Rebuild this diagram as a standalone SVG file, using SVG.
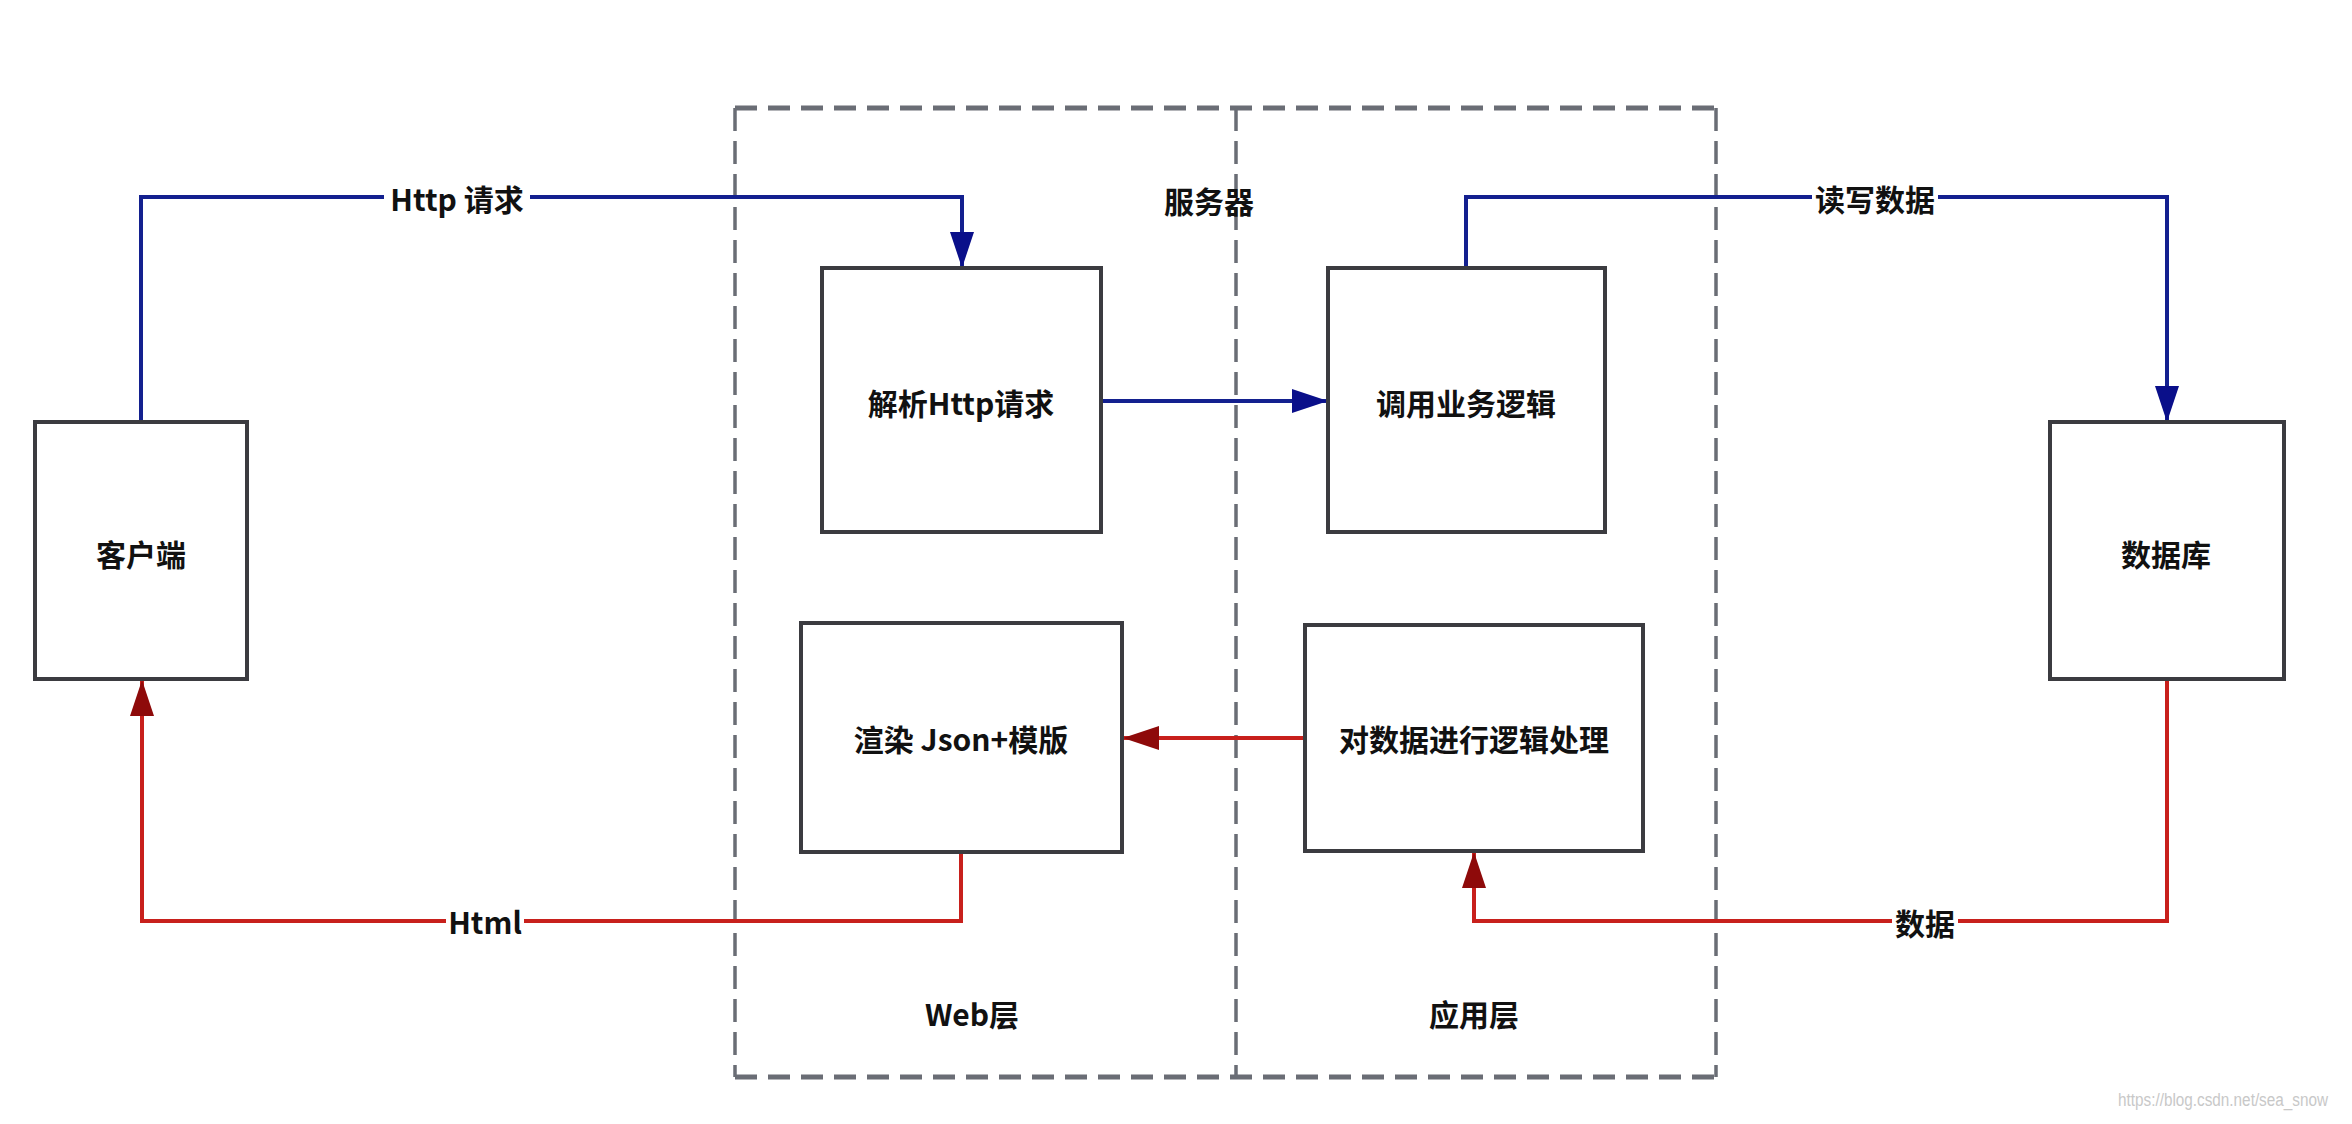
<svg xmlns="http://www.w3.org/2000/svg" width="2352" height="1124" viewBox="0 0 2352 1124">
<style>
.box{fill:#fff;stroke:#3b3b40;stroke-width:4}
.lbl{font-family:"Noto Sans CJK SC","Noto Sans",sans-serif;font-size:30px;font-weight:bold;fill:#111;text-anchor:middle;dominant-baseline:central}
.blue{fill:none;stroke:#13208f;stroke-width:4}
.red{fill:none;stroke:#c8201c;stroke-width:4}
.dashH{stroke:#6a6d75;stroke-width:5;stroke-dasharray:22 11;fill:none}
.dashV{stroke:#6a6d75;stroke-width:3.5;stroke-dasharray:23 10;fill:none}
.bg{fill:#fff}
</style>
<defs>
<marker id="ab" viewBox="0 0 36 24" refX="36" refY="12" markerWidth="36" markerHeight="24" markerUnits="userSpaceOnUse" orient="auto">
<path d="M0,0 L36,12 L0,24 z" fill="#0a0f8a"/>
</marker>
<marker id="ar" viewBox="0 0 36 24" refX="36" refY="12" markerWidth="36" markerHeight="24" markerUnits="userSpaceOnUse" orient="auto">
<path d="M0,0 L36,12 L0,24 z" fill="#8e0a0a"/>
</marker>
</defs>
<rect width="2352" height="1124" fill="#fff"/>

<g id="server">
<line class="dashH" x1="735" y1="108" x2="1716" y2="108"/>
<line class="dashH" x1="735" y1="1077" x2="1716" y2="1077"/>
<line class="dashV" x1="735" y1="108" x2="735" y2="1077"/>
<line class="dashV" x1="1236" y1="108" x2="1236" y2="1077"/>
<line class="dashV" x1="1716" y1="108" x2="1716" y2="1077"/>
<text class="lbl" x="1209" y="200">服务器</text>
<text class="lbl" x="972" y="1013">Web层</text>
<text class="lbl" x="1474" y="1013">应用层</text>
</g>

<g id="connectors">
<path class="blue" d="M141,422 V197 H962 V268" marker-end="url(#ab)"/>
<path class="blue" d="M1101,401 H1328" marker-end="url(#ab)"/>
<path class="blue" d="M1466,268 V197 H2167 V422" marker-end="url(#ab)"/>
<path class="red" d="M961,852 V921 H142 V680" marker-end="url(#ar)"/>
<path class="red" d="M1305,738 H1123" marker-end="url(#ar)"/>
<path class="red" d="M2167,680 V921 H1474 V852" marker-end="url(#ar)"/>
<rect class="bg" x="384" y="180" width="146" height="36"/>
<text class="lbl" x="457" y="198">Http 请求</text>
<rect class="bg" x="1812" y="180" width="126" height="36"/>
<text class="lbl" x="1875" y="198">读写数据</text>
<rect class="bg" x="446" y="903" width="78" height="36"/>
<text class="lbl" x="485" y="921">Html</text>
<rect class="bg" x="1892" y="903" width="66" height="36"/>
<text class="lbl" x="1925" y="922">数据</text>
</g>

<g id="client">
<rect class="box" x="35" y="422" width="212" height="257"/>
<text class="lbl" x="141" y="553">客户端</text>
</g>
<g id="parse">
<rect class="box" x="822" y="268" width="279" height="264"/>
<text class="lbl" x="961" y="402">解析Http请求</text>
</g>
<g id="logic">
<rect class="box" x="1328" y="268" width="277" height="264"/>
<text class="lbl" x="1466" y="402">调用业务逻辑</text>
</g>
<g id="db">
<rect class="box" x="2050" y="422" width="234" height="257"/>
<text class="lbl" x="2166" y="553">数据库</text>
</g>
<g id="render">
<rect class="box" x="801" y="623" width="321" height="229"/>
<text class="lbl" x="961" y="738">渲染 Json+模版</text>
</g>
<g id="process">
<rect class="box" x="1305" y="625" width="338" height="226"/>
<text class="lbl" x="1474" y="738">对数据进行逻辑处理</text>
</g>

<text x="2118" y="1106" font-family="Liberation Sans, sans-serif" font-size="18" fill="#c8c8c8" textLength="210" lengthAdjust="spacingAndGlyphs">https://blog.csdn.net/sea_snow</text>
</svg>
